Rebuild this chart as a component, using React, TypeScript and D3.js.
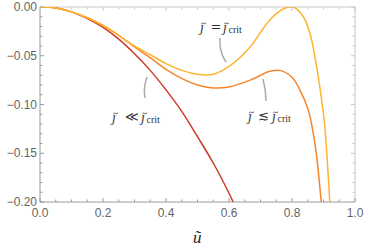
import React from 'react';
import * as d3 from 'd3';

// values
const redU = [0, 0.05, 0.1, 0.15, 0.2, 0.25, 0.3, 0.35, 0.4, 0.45, 0.5, 0.55, 0.6, 0.62];
const redV = [0, -0.001, -0.005, -0.012, -0.021, -0.033, -0.048, -0.065, -0.085, -0.107, -0.133, -0.160, -0.191, -0.205];

const orangeU = [0, 0.05, 0.1, 0.15, 0.2, 0.25, 0.3, 0.35, 0.4, 0.454, 0.5, 0.55, 0.6, 0.667, 0.73, 0.762, 0.8, 0.825, 0.852, 0.875, 0.893, 0.9];
const orangeV = [0, -0.001, -0.005, -0.011, -0.019, -0.029, -0.041, -0.052, -0.064, -0.074, -0.080, -0.083, -0.082, -0.075, -0.066, -0.065, -0.072, -0.085, -0.106, -0.145, -0.2, -0.22];

const yellowU = [0, 0.05, 0.1, 0.15, 0.2, 0.25, 0.3, 0.35, 0.4, 0.45, 0.5, 0.55, 0.6, 0.667, 0.698, 0.73, 0.772, 0.804, 0.836, 0.857, 0.878, 0.894, 0.904, 0.92, 0.925];
const yellowV = [0, -0.001, -0.005, -0.011, -0.019, -0.029, -0.040, -0.049, -0.058, -0.065, -0.069, -0.069, -0.061, -0.041, -0.027, -0.013, -0.002, 0, -0.010, -0.027, -0.061, -0.095, -0.122, -0.2, -0.23];

const xTicks = [0, 0.2, 0.4, 0.6, 0.8, 1.0];
const yTicks = [0, -0.05, -0.1, -0.15, -0.2];

const W = 366;
const H = 252;
const left = 40, right = 355, top = 7, bottom = 202;

const serif = "'Liberation Serif', 'DejaVu Serif', serif";

// tilde-j glyph drawn as j plus a small tilde above
function TJ({ x, y }: { x: number; y: number }) {
  return (
    <g>
      <text x={x} y={y} fontFamily={serif} fontStyle="italic" fontSize={14} fill="#333">ȷ</text>
      <path
        d={`M${x + 1.2},${y - 8} q1.2,-1.6 2.4,-0.6 t2.4,-0.6`}
        fill="none"
        stroke="#333"
        strokeWidth={0.8}
      />
    </g>
  );
}

function Label({ x, y, rel, relCx, jDx, relSize }: { x: number; y: number; rel: string; relCx: number; jDx: number; relSize: number }) {
  return (
    <g>
      <TJ x={x} y={y} />
      <text x={x + relCx} y={y - 1} textAnchor="middle" fontFamily="'DejaVu Serif', serif" fontSize={relSize} fill="#333">{rel}</text>
      <TJ x={x + jDx} y={y} />
      <text x={x + jDx + 5.5} y={y + 1} fontFamily={serif} fontSize={10} fill="#333">crit</text>
    </g>
  );
}

export default function App() {
  const x = d3.scaleLinear().domain([0, 1]).range([left, right]);
  const y = d3.scaleLinear().domain([-0.2, 0]).range([bottom, top]);

  const line = d3.line<[number, number]>()
    .x(d => x(d[0]))
    .y(d => y(d[1]))
    .curve(d3.curveCatmullRom.alpha(0.5));

  const series = [
    { u: redU, v: redV, color: '#cc3a28' },
    { u: orangeU, v: orangeV, color: '#f5852a' },
    { u: yellowU, v: yellowV, color: '#fdb530' },
  ];

  const xMinor = d3.range(0, 1.0001, 0.05);
  const yMinor = d3.range(-0.2, 0.0001, 0.01);
  const frameDark = '#9a9a9a';
  const frameLight = '#c8c8c8';
  const tickFont = { fontFamily: "'Liberation Sans', Arial, sans-serif", fontSize: 12, fill: '#666' };

  return (
    <svg width={W} height={H} style={{ position: 'absolute', left: 0, top: 0, background: '#fff' }}>
      <defs>
        <clipPath id="plot">
          <rect x={left} y={top} width={right - left} height={bottom - top} />
        </clipPath>
      </defs>

      {/* frame */}
      <line x1={left} x2={right} y1={top} y2={top} stroke={frameLight} />
      <line x1={right} x2={right} y1={top} y2={bottom} stroke={frameLight} />
      <line x1={left} x2={right} y1={bottom} y2={bottom} stroke={frameDark} />
      <line x1={left} x2={left} y1={top} y2={bottom} stroke={frameDark} />

      {xMinor.map((t, i) => {
        const major = i % 4 === 0;
        const len = major ? 4 : 2.5;
        return (
          <g key={'xt' + i}>
            <line x1={x(t)} x2={x(t)} y1={bottom} y2={bottom - len} stroke={frameDark} />
            <line x1={x(t)} x2={x(t)} y1={top} y2={top + len} stroke={frameLight} />
          </g>
        );
      })}
      {yMinor.map((t, i) => {
        const major = i % 5 === 0;
        const len = major ? 4 : 2.5;
        return (
          <g key={'yt' + i}>
            <line x1={left} x2={left + len} y1={y(t)} y2={y(t)} stroke={frameDark} />
            <line x1={right} x2={right - len} y1={y(t)} y2={y(t)} stroke={frameLight} />
          </g>
        );
      })}

      {xTicks.map(t => (
        <text key={'xl' + t} x={x(t)} y={bottom + 15} textAnchor="middle" {...tickFont}>
          {t.toFixed(1)}
        </text>
      ))}
      {yTicks.map(t => (
        <text key={'yl' + t} x={left - 3} y={y(t) + 4} textAnchor="end" {...tickFont}>
          {t === 0 ? '0.00' : '\u2212' + Math.abs(t).toFixed(2)}
        </text>
      ))}

      <g clipPath="url(#plot)">
        {series.map((s, i) => (
          <path
            key={i}
            d={line(s.u.map((u, k) => [u, s.v[k]] as [number, number])) || ''}
            fill="none"
            stroke={s.color}
            strokeWidth={1.5}
          />
        ))}
      </g>

      {/* callouts */}
      <path d="M220,38 Q219,52 226,62" fill="none" stroke="#aaa" strokeWidth={1.5} />
      <path d="M263,79 Q266,90 266,101" fill="none" stroke="#aaa" strokeWidth={1.5} />
      <path d="M147,77 Q143,88 145,98" fill="none" stroke="#aaa" strokeWidth={1.5} />

      <Label x={200} y={32} rel="=" relCx={16} jDx={23} relSize={13} />
      <Label x={248} y={121} rel="≲" relCx={15} jDx={24} relSize={13} />
      <Label x={112} y={122} rel="≪" relCx={20} jDx={29} relSize={13} />

      <text x={193} y={243} fontFamily={serif} fontStyle="italic" fontSize={17} fill="#222">ũ</text>
    </svg>
  );
}
